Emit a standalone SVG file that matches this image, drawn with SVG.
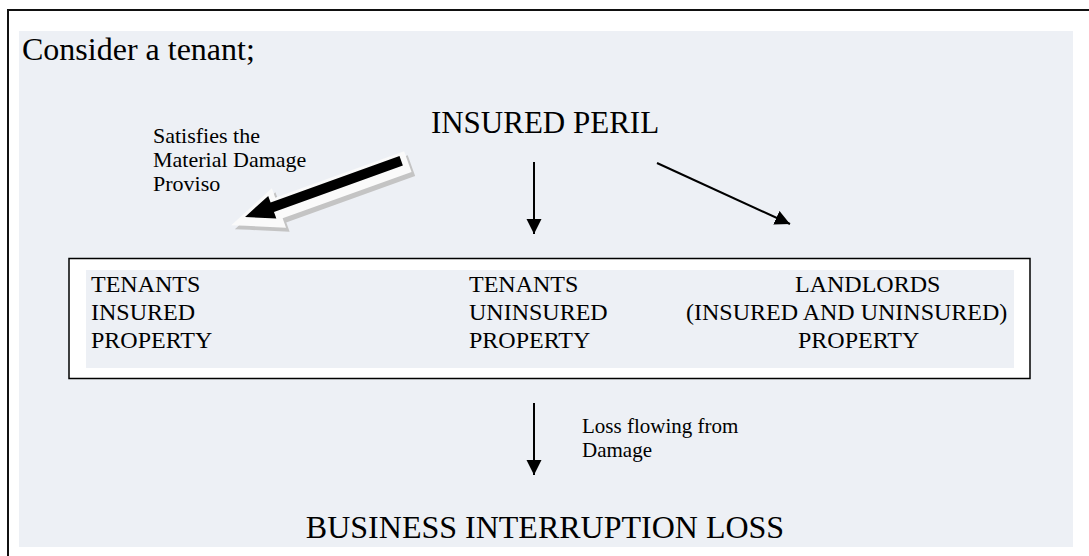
<svg xmlns="http://www.w3.org/2000/svg" width="1089" height="556" viewBox="0 0 1089 556">
<style>
text{font-family:"Liberation Serif","Times New Roman",serif;fill:#000}
.big{font-size:32px}
.box{font-size:24px}
.small{font-size:21px}
.conn{stroke:#000;stroke-width:2;fill:none}
</style>
<defs>
<marker id="ah" markerUnits="userSpaceOnUse" markerWidth="16" markerHeight="16" refX="15" refY="7.5" orient="auto">
<path d="M0,0 L15,7.5 L0,15 z" fill="#000"/>
</marker>
<polygon id="fat" points="0,0 -29,-12 -29,-5 -166,-5 -166,5 -29,5 -29,12"/>
</defs>
<g id="frame">
<rect x="19" y="31" width="1054" height="516" fill="#EDF0F5"/>
<path d="M8,556 L8,10 L1089,10" fill="none" stroke="#111" stroke-width="2"/>
</g>
<g id="intro"><text class="big" x="22" y="60">Consider a tenant;</text></g>
<g id="peril"><text class="big" x="545" y="133" text-anchor="middle" style="font-size:31px">INSURED PERIL</text></g>
<g id="property-box">
<rect x="69" y="258.5" width="961" height="120" fill="#fff" stroke="#000" stroke-width="1.5"/>
<rect x="86" y="270" width="928" height="98" fill="#EDF0F5"/>
</g>
<g id="tenants-insured">
<text class="box" x="91" y="292">TENANTS</text>
<text class="box" x="91" y="320">INSURED</text>
<text class="box" x="91" y="348">PROPERTY</text>
</g>
<g id="tenants-uninsured">
<text class="box" x="469" y="292">TENANTS</text>
<text class="box" x="469" y="320">UNINSURED</text>
<text class="box" x="469" y="348">PROPERTY</text>
</g>
<g id="landlords">
<text class="box" x="795" y="292">LANDLORDS</text>
<text class="box" x="686" y="320">(INSURED AND UNINSURED)</text>
<text class="box" x="798" y="348">PROPERTY</text>
</g>
<g id="bi-loss"><text class="big" x="545" y="538" text-anchor="middle">BUSINESS INTERRUPTION LOSS</text></g>
<g id="connectors">
<g id="md-proviso-arrow" transform="translate(245,217) rotate(160.2)">
<use href="#fat" transform="translate(-2,-8)" fill="#C4C4C4" stroke="#C4C4C4" stroke-width="12" stroke-linejoin="miter" stroke-miterlimit="10"/>
<use href="#fat" transform="translate(0,-3)" fill="#FAFAFA" stroke="#FAFAFA" stroke-width="12" stroke-linejoin="miter" stroke-miterlimit="10"/>
<use href="#fat" fill="#000"/>
</g>
<line class="conn" x1="534" y1="162" x2="534" y2="234" marker-end="url(#ah)"/>
<line class="conn" x1="657" y1="163" x2="790" y2="224" marker-end="url(#ah)"/>
<line class="conn" x1="534" y1="403" x2="534" y2="475" marker-end="url(#ah)"/>
<g id="labels">
<text class="small" x="153" y="143" style="font-size:22px">Satisfies the</text>
<text class="small" x="153" y="167" style="font-size:22px">Material Damage</text>
<text class="small" x="153" y="191" style="font-size:22px">Proviso</text>
<text class="small" x="582" y="433">Loss flowing from</text>
<text class="small" x="582" y="457">Damage</text>
</g>
</g>
</svg>
